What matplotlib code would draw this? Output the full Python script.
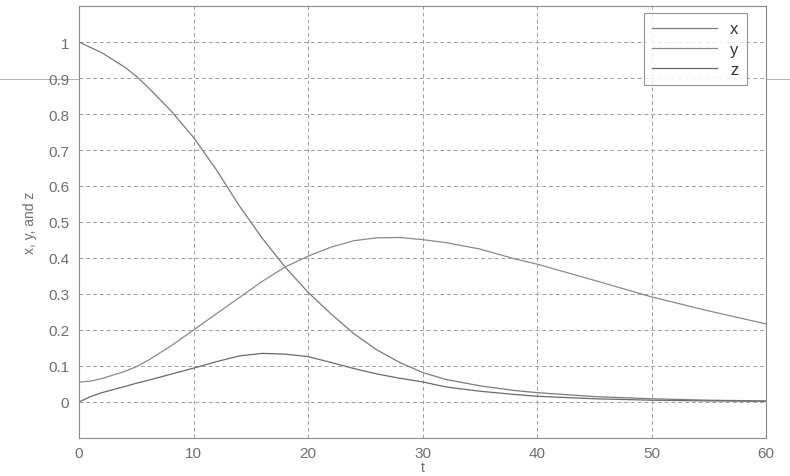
import matplotlib
matplotlib.use("Agg")
import matplotlib.pyplot as plt
from matplotlib.lines import Line2D

t_vals = [0, 1, 2, 4, 5, 6, 8, 10, 12, 14, 16, 18, 20, 22, 24, 26, 28, 30, 32, 35, 38, 40, 45, 50, 55, 60]
x_vals = [1.0, 0.985, 0.97, 0.93, 0.905, 0.875, 0.81, 0.735, 0.645, 0.545, 0.455, 0.375, 0.305, 0.245,
          0.19, 0.145, 0.11, 0.082, 0.063, 0.045, 0.032, 0.026, 0.015, 0.009, 0.005, 0.003]
y_vals = [0.055, 0.058, 0.065, 0.085, 0.098, 0.115, 0.155, 0.2, 0.245, 0.29, 0.335, 0.375, 0.405, 0.43,
          0.448, 0.456, 0.457, 0.451, 0.443, 0.425, 0.398, 0.383, 0.338, 0.292, 0.253, 0.217]
z_vals = [0.0, 0.015, 0.026, 0.043, 0.052, 0.06, 0.077, 0.094, 0.112, 0.128, 0.135, 0.133, 0.126, 0.11,
          0.093, 0.078, 0.066, 0.056, 0.042, 0.03, 0.021, 0.016, 0.009, 0.005, 0.003, 0.002]

x_ticks = [0, 10, 20, 30, 40, 50, 60]
y_ticks = [0, 0.1, 0.2, 0.3, 0.4, 0.5, 0.6, 0.7, 0.8, 0.9, 1]
y_ticklabels = ["0", "0.1", "0.2", "0.3", "0.4", "0.5", "0.6", "0.7", "0.8", "0.9", "1"]

plt.rcParams['font.family'] = ['Liberation Sans', 'DejaVu Sans']

fig = plt.figure(figsize=(7.9, 4.77), dpi=100)
ax = fig.add_axes([79/790, 1 - 439/477, (766 - 79)/790, (439 - 7)/477])

ax.plot(t_vals, x_vals, color='#7a7a7a', lw=0.9, label='x')
ax.plot(t_vals, y_vals, color='#8a8a8a', lw=0.9, label='y')
ax.plot(t_vals, z_vals, color='#6a6a6a', lw=0.9, label='z')

ax.set_xlim(0, 60)
ax.set_ylim(-0.1, 1.1)
ax.set_xticks(x_ticks)
ax.set_yticks(y_ticks)
ax.set_yticklabels(y_ticklabels)
ax.tick_params(axis='both', which='both', length=0, labelsize=11, labelcolor='#6f6f6f')
ax.tick_params(axis='x', pad=6)
ax.tick_params(axis='y', pad=7)
ax.grid(True, linestyle=(0, (4, 3)), color='#a0a0a0', lw=0.7)
for s in ax.spines.values():
    s.set_color('#8a8a8a')
    s.set_linewidth(0.8)

ax.set_xlabel('t', fontsize=10, color='#6f6f6f', labelpad=0)
ax.set_ylabel('x, y, and z', fontsize=10, color='#6f6f6f', labelpad=8)

leg = ax.legend(loc='upper right', bbox_to_anchor=(747/790, 1 - 14/477), bbox_transform=fig.transFigure,
                fontsize=12, frameon=True, fancybox=False, handlelength=3.9, handletextpad=0.8,
                borderpad=0.5, labelspacing=0.32, borderaxespad=0)
leg.get_frame().set_edgecolor('#7a7a7a')
leg.get_frame().set_linewidth(0.8)
for txt in leg.get_texts():
    txt.set_color('#333333')

fig.add_artist(Line2D([0, 1], [1 - 80/477, 1 - 80/477], transform=fig.transFigure,
                      color='#b0b0b0', lw=0.7, zorder=0))

fig.savefig('out.png', dpi=100, facecolor='white')
